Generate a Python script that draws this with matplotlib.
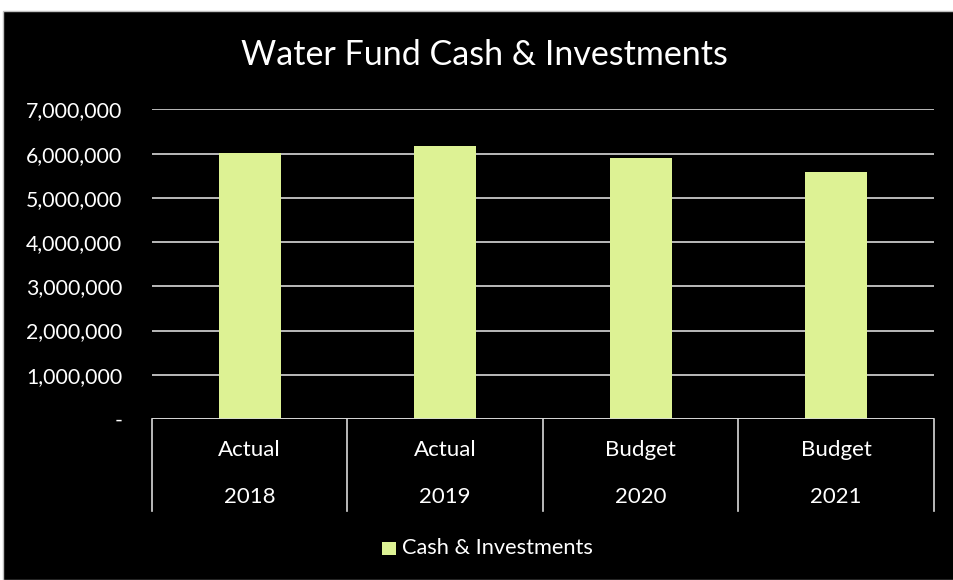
import numpy as np
import matplotlib
matplotlib.use("Agg")
import matplotlib.pyplot as plt
import matplotlib.transforms as mtransforms
from matplotlib.patches import Rectangle

# Chart data
scenarios = ["Actual", "Actual", "Budget", "Budget"]
years = ["2018", "2019", "2020", "2021"]
cash_investments = [6020000, 6180000, 5900000, 5580000]
y_ticks = [0, 1000000, 2000000, 3000000, 4000000, 5000000, 6000000, 7000000]

BAR_COLOR = "#DDF294"
GRID_COLOR = "#D9D9D9"
FONT = ["Lato", "DejaVu Sans"]

W, H = 954, 580
fig = plt.figure(figsize=(W / 100, H / 100), dpi=100, facecolor="white")

# black chart panel with thin grey border
fig.patches.append(Rectangle((3.5 / W, 0), 1, 1 - 10.5 / H, transform=fig.transFigure,
                             facecolor="black", edgecolor="#BFBFBF", linewidth=1.0,
                             zorder=-10))

left, right = 152 / W, 934 / W
bottom, top = (H - 419) / H, (H - 109.5) / H
ax = fig.add_axes([left, bottom, right - left, top - bottom])
ax.set_facecolor("black")

x = np.arange(len(years))
ax.bar(x, cash_investments, width=0.315, color=BAR_COLOR, zorder=3)
ax.set_xlim(-0.5, len(years) - 0.5)
ax.set_ylim(0, 7000000)

ax.set_yticks(y_ticks)
ax.set_yticklabels(["-" if v == 0 else f"{v:,.0f}" for v in y_ticks],
                   fontsize=15.3, color="white", family=FONT)
ax.tick_params(axis="y", length=0, pad=21.5)
ax.set_xticks([])
ax.grid(axis="y", color=GRID_COLOR, linewidth=1.2, zorder=1)
for s in ax.spines.values():
    s.set_visible(False)
ax.axhline(0, color=GRID_COLOR, linewidth=1.2, zorder=4)

# two-level category axis below the plot
trans = mtransforms.blended_transform_factory(ax.transData, ax.transAxes)
axis_h = 419 - 109.5
drop = (511 - 419) / axis_h
for b in np.arange(-0.5, len(years), 1.0):
    ax.plot([b, b], [0, -drop], color=GRID_COLOR, linewidth=1.2, transform=trans,
            clip_on=False)
for i in range(len(years)):
    ax.text(i, -(450 - 419) / axis_h, scenarios[i], transform=trans, ha="center",
            va="center", color="white", fontsize=16, family=FONT)
    ax.text(i, -(497 - 419) / axis_h, years[i], transform=trans, ha="center",
            va="center", color="white", fontsize=16, family=FONT)

fig.text(484 / W, 1 - 65 / H, "Water Fund Cash & Investments", ha="center",
         va="baseline", color="white", fontsize=24.5, family=FONT)

# legend
fig.patches.append(Rectangle((382 / W, 1 - 555 / H), 14 / W, 13.5 / H,
                             transform=fig.transFigure, facecolor=BAR_COLOR))
fig.text(402 / W, 1 - 548 / H, "Cash & Investments", ha="left", va="center",
         color="white", fontsize=15.7, family=FONT)

fig.savefig("out.png", dpi=100, facecolor="white")
